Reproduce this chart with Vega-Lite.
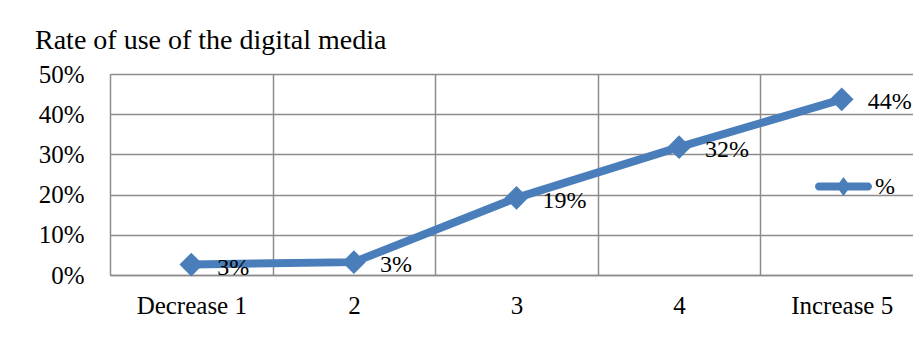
{
  "$schema": "https://vega.github.io/schema/vega-lite/v6.json",
  "autosize": "none",
  "width": 813,
  "height": 201,
  "padding": {"left": 110, "top": 74, "right": 0, "bottom": 74},
  "background": "white",
  "title": {
    "text": "Rate of use of the digital media",
    "anchor": "start",
    "frame": "group",
    "dx": -75,
    "offset": 7,
    "font": "Liberation Serif",
    "fontSize": 28,
    "fontWeight": "normal",
    "color": "black"
  },
  "data": {
    "values": [
      {"level": "Decrease 1", "share": 0.026, "series": "%"},
      {"level": "2", "share": 0.032, "series": "%"},
      {"level": "3", "share": 0.192, "series": "%"},
      {"level": "4", "share": 0.318, "series": "%"},
      {"level": "Increase 5", "share": 0.437, "series": "%"}
    ]
  },
  "encoding": {
    "x": {
      "field": "level",
      "type": "nominal",
      "sort": null,
      "scale": {"paddingInner": 0, "paddingOuter": 0},
      "axis": {
        "title": null,
        "labelAngle": 0,
        "tickBand": "extent",
        "ticks": false,
        "domain": true,
        "domainColor": "#8c8c8c",
        "domainWidth": 1.5,
        "grid": true,
        "gridColor": "#8c8c8c",
        "gridWidth": 1.5,
        "gridOpacity": 1,
        "labelFont": "Liberation Serif",
        "labelFontSize": 25,
        "labelColor": "black",
        "labelPadding": 18
      }
    },
    "y": {
      "field": "share",
      "type": "quantitative",
      "scale": {"domain": [0, 0.5], "nice": false},
      "axis": {
        "title": null,
        "format": ".0%",
        "values": [0, 0.1, 0.2, 0.3, 0.4, 0.5],
        "ticks": false,
        "domain": false,
        "grid": true,
        "gridColor": "#8c8c8c",
        "gridWidth": 1.5,
        "gridOpacity": 1,
        "labelFont": "Liberation Serif",
        "labelFontSize": 25,
        "labelColor": "black",
        "labelPadding": 26
      }
    }
  },
  "layer": [
    {
      "mark": {"type": "line", "strokeWidth": 8, "clip": false},
      "encoding": {
        "color": {
          "field": "series",
          "type": "nominal",
          "scale": {"range": ["#4a7ebb"]},
          "legend": {
            "title": null,
            "orient": "none",
            "legendX": 705,
            "legendY": 84,
            "padding": 0,
            "symbolType": "M-0.86,-0.14 L0.86,-0.14 A0.14,0.14 0 0 1 0.86,0.14 L-0.86,0.14 A0.14,0.14 0 0 1 -0.86,-0.14 Z M0,-0.33 L0.25,0 L0,0.33 L-0.25,0 Z",
            "symbolSize": 3249,
            "symbolFillColor": "#4a7ebb",
            "symbolStrokeWidth": 0,
            "labelFont": "Liberation Serif",
            "labelFontSize": 24,
            "labelColor": "black",
            "labelOffset": 3,
            "encode": {
              "symbols": {
                "update": {
                  "fill": {"value": "#4a7ebb"},
                  "stroke": {"value": "#4a7ebb"},
                  "strokeWidth": {"value": 0},
                  "opacity": {"value": 1}
                }
              }
            }
          }
        }
      }
    },
    {
      "mark": {"type": "point", "shape": "diamond", "filled": true, "size": 560, "color": "#4a7ebb", "opacity": 1, "clip": false}
    },
    {
      "mark": {
        "type": "text",
        "align": "left",
        "baseline": "middle",
        "dx": 26,
        "dy": 3,
        "font": "Liberation Serif",
        "fontSize": 24,
        "color": "black"
      },
      "encoding": {
        "text": {"field": "share", "type": "quantitative", "format": ".0%"}
      }
    }
  ]
}
